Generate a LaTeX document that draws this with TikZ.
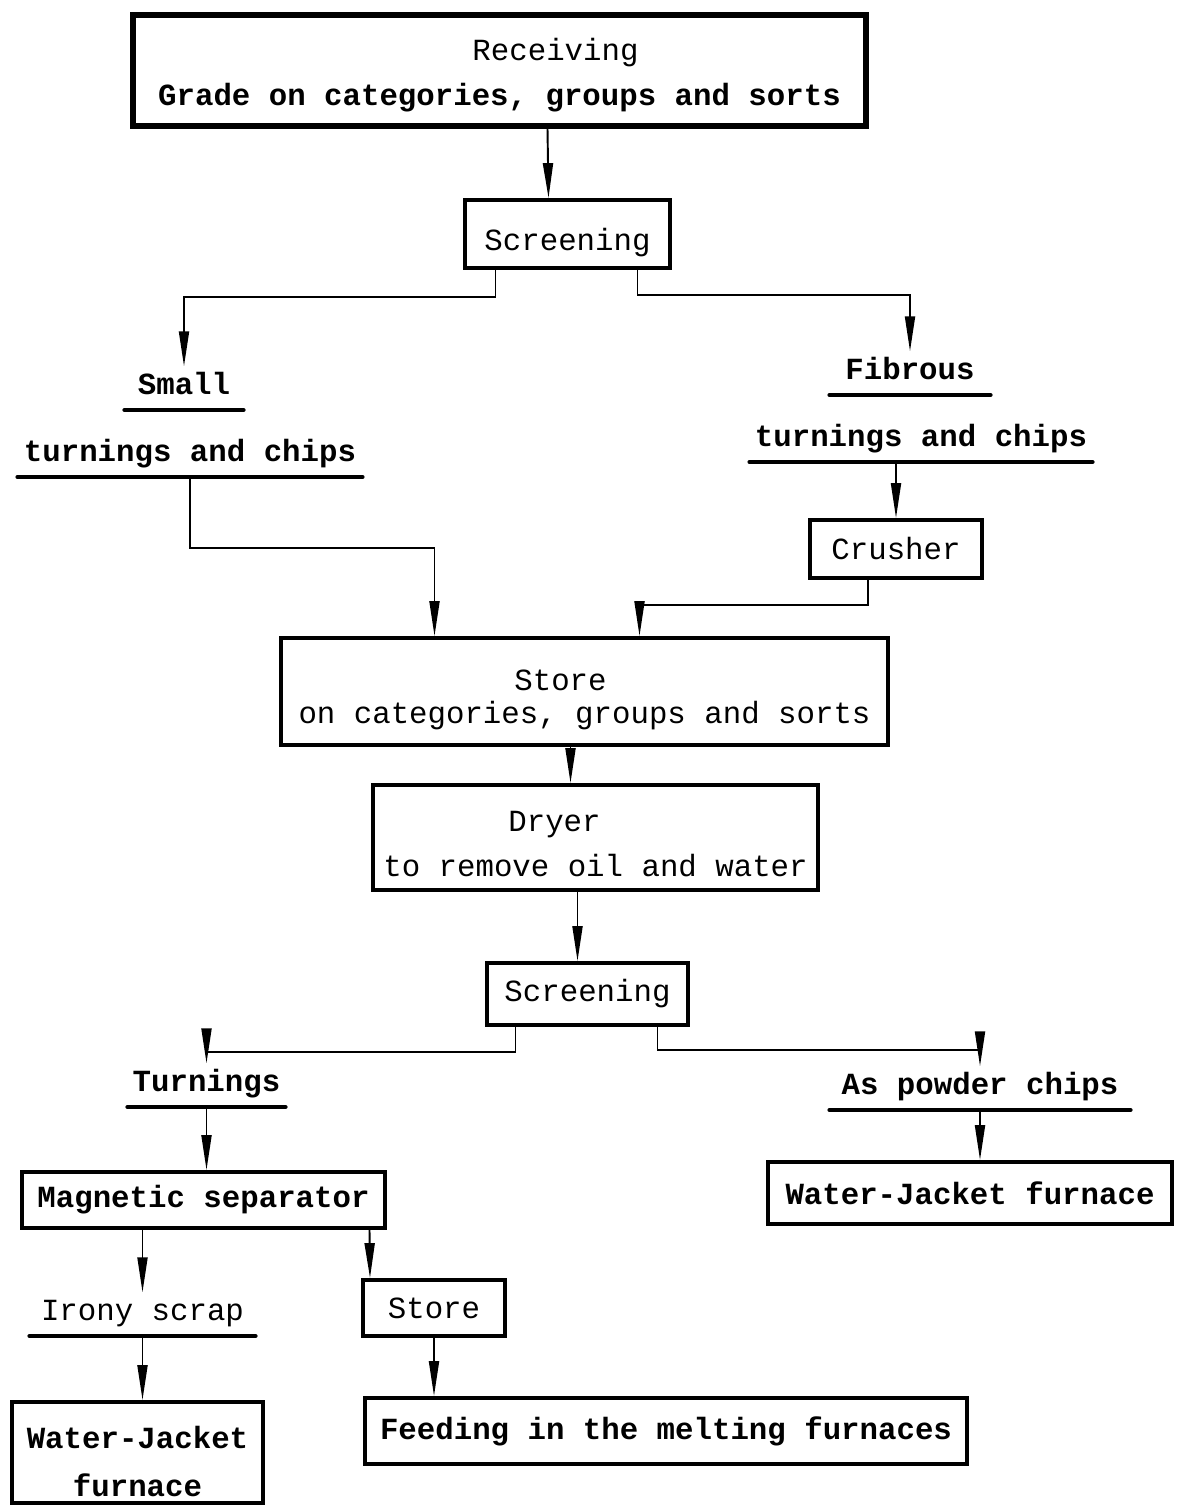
\documentclass[tikz,border=0pt]{standalone}
\usepackage{fontspec}
\newfontfamily\typewr{Liberation Mono}
\usetikzlibrary{arrows.meta,calc}
\newcommand{\twfont}{\typewr\fontsize{17.5}{26}\selectfont}

\begin{document}
\begin{tikzpicture}[
        x=0.02cm, y=-0.02cm,
        every node/.style={font=\twfont},
        box/.style={rectangle, draw, line width=2.2pt, inner sep=0pt, align=center},
        lbl/.style={inner xsep=0pt, inner ysep=0.2cm, text height=0.36cm, text depth=0.1cm, anchor=south, font=\twfont\bfseries},
        uline/.style={line width=2.6pt, line cap=round},
        link/.style={line width=1.1pt},
        arr/.style={link, -{Triangle[length=0.7cm, width=0.2cm]}}
    ]
        \path[fill=white] (0,0) rectangle (1183,1507);

        % Top: receiving and first screening
        \node[box, line width=3.2pt, minimum width=14.66cm, minimum height=2.22cm] (recv) at (499.5,70.5)
            {\rule{0pt}{0.63cm}\hspace*{2.24cm}Receiving\\\textbf{Grade on categories, groups and sorts}};
        \node[box, minimum width=4.1cm, minimum height=1.36cm] (scr1) at (567.5,234) {\rule{0pt}{0.8cm}Screening};

        % Sorted turnings
        \node[lbl, minimum width=2.36cm] (small) at (184,410) {Small};
        \node[lbl, minimum width=6.88cm] (smallb) at (190,477) {turnings and chips};
        \node[lbl, minimum width=3.2cm] (fib) at (910,395) {Fibrous};
        \node[lbl, minimum width=6.84cm] (fibb) at (921,462) {turnings and chips};
        \node[box, minimum width=3.44cm, minimum height=1.16cm] (crush) at (896,549) {Crusher};

        % Store and dryer
        \node[box, minimum width=12.14cm, minimum height=2.14cm, font=\typewr\fontsize{17.5}{18.5}\selectfont] (store) at (584.5,691.5)
            {\rule{0pt}{0.75cm}Store\hspace*{0.96cm}\\on categories, groups and sorts};
        \node[box, minimum width=8.9cm, minimum height=2.1cm] (dryer) at (595.5,837.5)
            {\rule{0pt}{0.67cm}Dryer\hspace*{1.64cm}\\to remove oil and water};
        \node[box, minimum width=4.02cm, minimum height=1.24cm] (scr2) at (587.5,994) {Screening};

        % Bottom: separation and furnaces
        \node[lbl, minimum width=3.14cm] (turn) at (206.5,1107) {Turnings};
        \node[lbl, minimum width=6.0cm] (powd) at (980,1110) {As powder chips};
        \node[box, minimum width=7.26cm, minimum height=1.12cm, font=\twfont\bfseries] (mag) at (203.5,1200) {Magnetic separator};
        \node[box, minimum width=8.08cm, minimum height=1.24cm, font=\twfont\bfseries] (wj1) at (970,1193) {Water-Jacket furnace};
        \node[lbl, minimum width=4.5cm, font=\twfont] (irony) at (142.5,1336) {Irony scrap};
        \node[box, minimum width=2.84cm, minimum height=1.12cm] (store2) at (434,1308) {Store};
        \node[box, minimum width=5.02cm, minimum height=2.02cm, font=\typewr\bfseries\fontsize{17.5}{27}\selectfont] (wj2) at (137.5,1452.5)
            {\rule{0pt}{0.8cm}Water-Jacket\\furnace};
        \node[box, minimum width=12.04cm, minimum height=1.32cm, font=\twfont\bfseries] (feed) at (666,1431) {Feeding in the melting furnaces};

        % Underlines
        \foreach \n in {small, smallb, fib, fibb, turn, powd, irony}
            \draw[uline] (\n.south west) -- (\n.south east);

        % Arrows
        \draw[arr] ($(recv.south)+(48,0)$) -- ($(scr1.north)+(-19,0)$);
        \draw[arr] ($(scr1.south)+(-72,0)$) -- ++(0,27) -| (small.north);
        \draw[arr] ($(scr1.south)+(70,0)$) -- ++(0,25) -| (fib.north);
        \draw[arr] (smallb.south) -- ++(0,71) -| ($(store.north)+(-150,0)$);
        \draw[arr] (fibb.south -| crush.north) -- (crush.north);
        \draw[arr] ($(crush.south)+(-28,0)$) -- ++(0,25) -| ($(store.north)+(55,0)$);
        \draw[arr] ($(store.south)+(-14,0)$) -- ($(dryer.north)+(-25,0)$);
        \draw[arr] ($(dryer.south)+(-18,0)$) -- ($(scr2.north)+(-10,0)$);
        \draw[arr] ($(scr2.south)+(-72,0)$) -- ++(0,25) -| (turn.north);
        \draw[arr] ($(scr2.south)+(70,0)$) -- ++(0,23) -| (powd.north);
        \draw[arr] (turn.south) -- (turn.south |- mag.north);
        \draw[arr] (powd.south) -- (powd.south |- wj1.north);
        \draw[arr] (mag.south -| irony.north) -- (irony.north);
        \draw[arr] ($(mag.south)+(166,0)$) -- ($(store2.north)+(-64,0)$);
        \draw[arr] (irony.south) -- (irony.south |- wj2.north);
        \draw[arr] (store2.south) -- (store2.south |- feed.north);
    \end{tikzpicture}
\end{document}
